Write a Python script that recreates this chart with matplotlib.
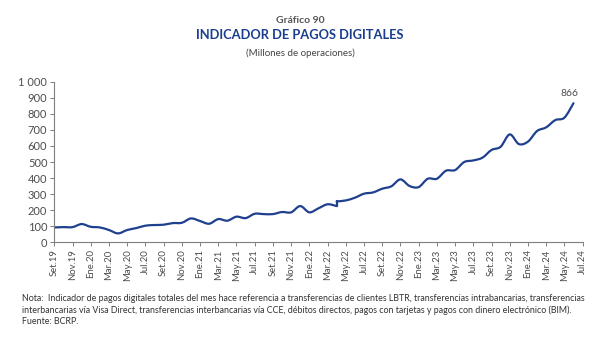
import matplotlib
matplotlib.use("Agg")
import matplotlib.pyplot as plt
from matplotlib.path import Path
from matplotlib.patches import PathPatch
import numpy as np

plt.rcParams['font.family'] = ['Lato', 'DejaVu Sans']

# Monthly values Sep.19 - Jun.24 (millions of operations)
values_a = [93, 95, 95, 114, 97, 93, 77, 56, 77, 89, 104, 108, 110, 120, 122, 149,
            133, 116, 145, 135, 160, 151, 178, 176, 176, 189, 187, 226, 187, 212, 237, 226]
# second segment starts Apr.22
values_b = [255, 261, 278, 303, 311, 334, 349, 392, 351, 344, 396, 396, 446, 450, 500,
            510, 527, 575, 595, 672, 612, 627, 693, 716, 761, 776, 866]
start_b = 31  # index of Apr.22 (Sep.19 = 0)

tick_labels = ["Set.19", "Nov.19", "Ene.20", "Mar.20", "May.20", "Jul.20", "Set.20", "Nov.20",
               "Ene.21", "Mar.21", "May.21", "Jul.21", "Set.21", "Nov.21", "Ene.22", "Mar.22",
               "May.22", "Jul.22", "Set.22", "Nov.22", "Ene.23", "Mar.23", "May.23", "Jul.23",
               "Set.23", "Nov.23", "Ene.24", "Mar.24", "May.24", "Jul.24"]
y_ticks = [0, 100, 200, 300, 400, 500, 600, 700, 800, 900, 1000]
last_label = "866"

LINE = "#1f3f8f"
GRAY = "#4d4d4d"


def smooth_path(x, y):
    # Catmull-Rom style cubic Bezier through data points (Excel "smoothed line")
    x = np.asarray(x, float)
    y = np.asarray(y, float)
    verts = [(x[0], y[0])]
    codes = [Path.MOVETO]
    n = len(x)
    for i in range(n - 1):
        p0 = (x[i - 1], y[i - 1]) if i > 0 else (x[i], y[i])
        p1 = (x[i], y[i])
        p2 = (x[i + 1], y[i + 1])
        p3 = (x[i + 2], y[i + 2]) if i + 2 < n else p2
        t = 1 / 6
        c1 = (p1[0] + (p2[0] - p0[0]) * t, p1[1] + (p2[1] - p0[1]) * t)
        c2 = (p2[0] - (p3[0] - p1[0]) * t, p2[1] - (p3[1] - p1[1]) * t)
        verts += [c1, c2, p2]
        codes += [Path.CURVE4] * 3
    return Path(verts, codes)


fig = plt.figure(figsize=(6, 3.39), dpi=100)
ax = fig.add_axes([0.0905, 0.285, 0.8805, 0.474])

xa = np.arange(len(values_a))
xb = np.arange(start_b, start_b + len(values_b))
for xs, ys in ((xa, values_a), (xb, values_b)):
    ax.add_patch(PathPatch(smooth_path(xs, ys), facecolor="none", edgecolor=LINE, lw=1.6,
                           capstyle="round", joinstyle="round"))
# join between the two segments
ax.plot([xa[-1], xb[0]], [values_a[-1], values_b[0]], color=LINE, lw=1.6,
        solid_capstyle="round")

ax.annotate(last_label, (xb[-1], values_b[-1]), xytext=(-3, 4), textcoords="offset points",
            ha="center", va="bottom", fontsize=7.5, color=GRAY)

ax.set_xlim(0, 58)
ax.set_ylim(0, 1000)
ax.set_yticks(y_ticks)
ax.set_yticklabels([f"{v:,}".replace(",", " ") for v in y_ticks])
ax.set_xticks(np.arange(0, 59, 2))
ax.set_xticklabels(tick_labels, rotation=90)

for s in ("top", "right"):
    ax.spines[s].set_visible(False)
for s in ("left", "bottom"):
    ax.spines[s].set_color("#7f7f7f")
    ax.spines[s].set_linewidth(0.8)
ax.tick_params(axis="both", direction="out", length=3, width=0.7, color="#7f7f7f",
               labelcolor=GRAY, pad=2)
ax.tick_params(axis="y", labelsize=8)
ax.tick_params(axis="x", labelsize=6.8)

fig.text(0.5, 0.939, "Gráfico 90", ha="center", va="center", fontsize=7.5,
         fontweight="bold", color="#555555")
fig.text(0.5, 0.898, "INDICADOR DE PAGOS DIGITALES", ha="center", va="center",
         fontsize=9.3, fontweight="bold", color="#1a3d8f")
fig.text(0.5, 0.843, "(Millones de operaciones)", ha="center", va="center",
         fontsize=7, color="#444444")

note = ("Nota:  Indicador de pagos digitales totales del mes hace referencia a transferencias de clientes LBTR, "
        "transferencias intrabancarias, transferencias\n"
        "interbancarias vía Visa Direct, transferencias interbancarias vía CCE, débitos directos, "
        "pagos con tarjetas y pagos con dinero electrónico (BIM).\n"
        "Fuente: BCRP.")
fig.text(0.037, 0.133, note, ha="left", va="top", fontsize=6.4, color="#333333",
         linespacing=1.3)

fig.savefig("out.png", dpi=100)
